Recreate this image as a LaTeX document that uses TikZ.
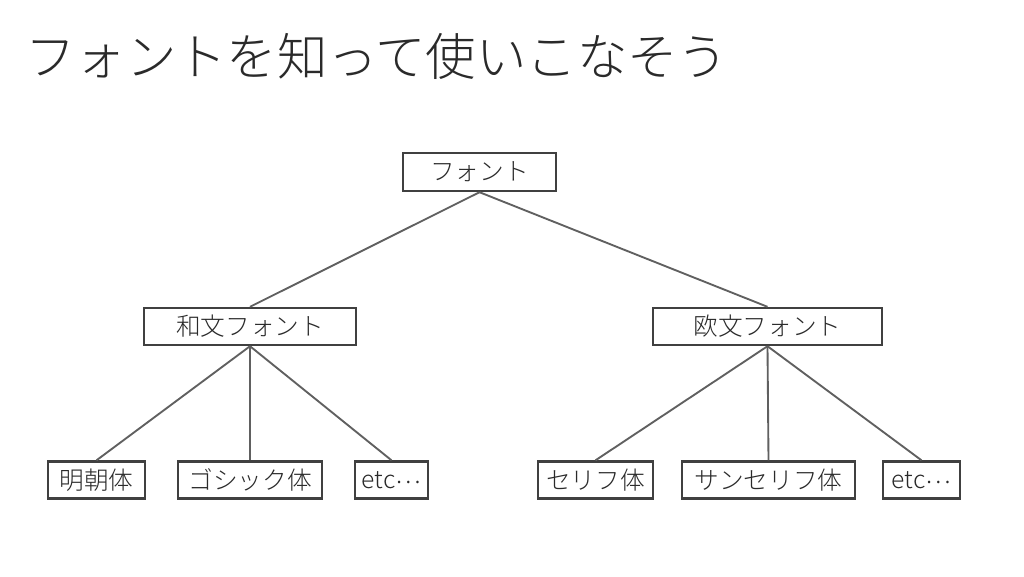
\documentclass[tikz,border=0pt]{standalone}
\usepackage{fontspec}
\setmainfont{Noto Sans CJK JP}[UprightFont={* Light}]
\newcommand{\midell}{\raisebox{0.2em}{…}}
\begin{document}
\begin{tikzpicture}[x=0.75pt,y=-0.75pt,
  box/.style={draw=boxgray,line width=1.8pt,fill=white,inner sep=0pt,minimum height=27.75pt,font=\fontsize{18.5}{22}\selectfont,text=txtgray},
  link/.style={draw=linegray,line width=1.4pt}]
\definecolor{boxgray}{HTML}{404040}
\definecolor{linegray}{HTML}{606060}
\definecolor{txtgray}{HTML}{2A2A2A}
\fill[white] (0,0) rectangle (1024,576);
\useasboundingbox (0,0) rectangle (1024,576);
\node[anchor=west,inner sep=0pt,text=txtgray,font=\fontsize{37.8}{42}\selectfont] (title) at (25,56) {フォントを知って使いこなそう};
\node[box,minimum width=114.75pt,minimum height=28.5pt] (root) at (479.5,172) {フォント};
\node[box,minimum width=159pt] (wa) at (250,326.5) {和文フォント};
\node[box,minimum width=171.75pt] (ou) at (767.5,326.5) {欧文フォント};
\node[box,minimum width=72.75pt] (min) at (96.5,480) {明朝体};
\node[box,minimum width=108pt] (goth) at (250,480) {ゴシック体};
\node[box,minimum width=54.75pt] (etc1) at (391.5,480) {etc\midell};
\node[box,minimum width=86.25pt] (ser) at (595.5,480) {セリフ体};
\node[box,minimum width=129.75pt] (sans) at (768.5,480) {サンセリフ体};
\node[box,minimum width=57.75pt] (etc2) at (921.5,480) {etc\midell};
\draw[link] (root.south) -- (wa.north);
\draw[link] (root.south) -- (ou.north);
\draw[link] (wa.south) -- (min.north);
\draw[link] (wa.south) -- (goth.north);
\draw[link] (wa.south) -- (etc1.north);
\draw[link] (ou.south) -- (ser.north);
\draw[link] (ou.south) -- (sans.north);
\draw[link] (ou.south) -- (etc2.north);
\end{tikzpicture}
\end{document}
